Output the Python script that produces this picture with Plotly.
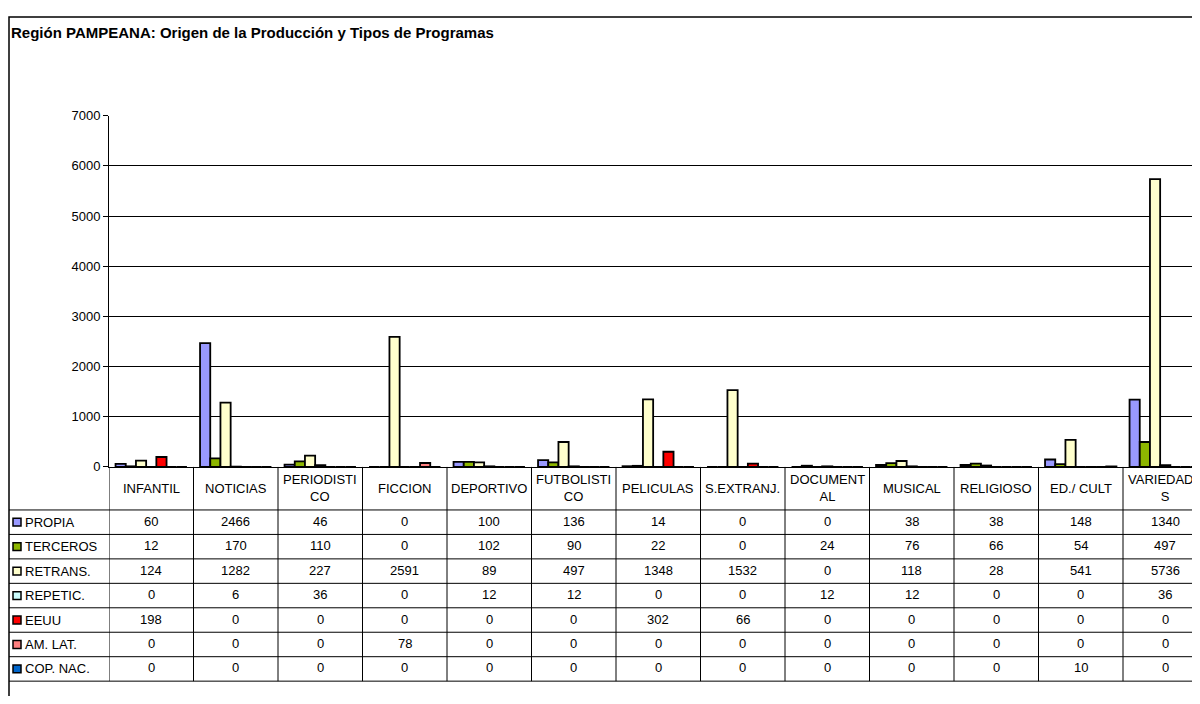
import plotly.graph_objects as go

# the page body has an 8px margin, so the figure is drawn 8px in from the
# window edges; reference pixel coordinates are converted with that offset
W, H = 1184, 688
OFF = 8

categories = ["INFANTIL", "NOTICIAS", "PERIODISTICO", "FICCION", "DEPORTIVO",
              "FUTBOLISTICO", "PELICULAS", "S.EXTRANJ.", "DOCUMENTAL",
              "MUSICAL", "RELIGIOSO", "ED./ CULT", "VARIEDADES"]
header_labels = ["INFANTIL", "NOTICIAS", "PERIODISTI<br>CO", "FICCION",
                 "DEPORTIVO", "FUTBOLISTI<br>CO", "PELICULAS", "S.EXTRANJ.",
                 "DOCUMENT<br>AL", "MUSICAL", "RELIGIOSO", "ED./ CULT",
                 "VARIEDADE<br>S"]

series_names = ["PROPIA", "TERCEROS", "RETRANS.", "REPETIC.", "EEUU",
                "AM. LAT.", "COP. NAC."]
propia = [60, 2466, 46, 0, 100, 136, 14, 0, 0, 38, 38, 148, 1340]
terceros = [12, 170, 110, 0, 102, 90, 22, 0, 24, 76, 66, 54, 497]
retrans = [124, 1282, 227, 2591, 89, 497, 1348, 1532, 0, 118, 28, 541, 5736]
repetic = [0, 6, 36, 0, 12, 12, 0, 0, 12, 12, 0, 0, 36]
eeuu = [198, 0, 0, 0, 0, 0, 302, 66, 0, 0, 0, 0, 0]
am_lat = [0, 0, 0, 78, 0, 0, 0, 0, 0, 0, 0, 0, 0]
cop_nac = [0, 0, 0, 0, 0, 0, 0, 0, 0, 0, 0, 10, 0]
series_values = [propia, terceros, retrans, repetic, eeuu, am_lat, cop_nac]
series_colors = ["#9999FF", "#8DB600", "#FFFFCC", "#CCFFFF", "#FF0000",
                 "#FF8080", "#0066CC"]

title = "Región PAMPEANA: Origen de la Producción y Tipos de Programas"


def fx(px):
    return (px - OFF) / W


def fy(py):
    return 1 - (py - OFF) / H


# layout in reference-window pixels
plot_left, plot_top, plot_bottom = 109, 111, 470
cat_width = 84.5
header_bottom = 514
row_h = 25
table_left = 9

x_idx = list(range(len(categories)))
x_max = -0.5 + (W + OFF - plot_left) / cat_width

fig = go.Figure()
for name, vals, col in zip(series_names, series_values, series_colors):
    fig.add_trace(go.Bar(x=x_idx, y=vals, name=name,
                         marker=dict(color=col,
                                     line=dict(color="black", width=1.8))))

font = dict(family="Liberation Sans, Arial, sans-serif", size=13,
            color="black")

shapes = []
annotations = []

# outer chart border
shapes.append(dict(type="rect", xref="paper", yref="paper",
                   x0=fx(9), x1=fx(W + OFF + 10), y0=fy(H + OFF + 10),
                   y1=fy(10), line=dict(color="black", width=1.5)))

# table header labels
for i, lab in enumerate(header_labels):
    annotations.append(dict(x=i, y=fy((plot_bottom + header_bottom) / 2),
                            xref="x", yref="paper", text=lab,
                            showarrow=False, font=font,
                            xanchor="center", yanchor="middle"))

n_rows = len(series_names)
table_bottom = header_bottom + n_rows * row_h

# vertical table lines
for i in range(len(categories)):
    shapes.append(dict(type="line", xref="x", yref="paper",
                       x0=i - 0.5, x1=i - 0.5,
                       y0=fy(table_bottom), y1=fy(plot_bottom),
                       line=dict(color="black", width=1)))

# horizontal table lines
for r in range(n_rows + 1):
    yy = header_bottom + r * row_h
    shapes.append(dict(type="line", xref="paper", yref="paper",
                       x0=fx(table_left), x1=1,
                       y0=fy(yy), y1=fy(yy),
                       line=dict(color="black", width=1)))

# rows: legend key, label and values
for r, (name, vals, col) in enumerate(zip(series_names, series_values,
                                          series_colors)):
    yc = header_bottom + r * row_h + row_h / 2
    shapes.append(dict(type="rect", xref="paper", yref="paper",
                       x0=fx(13), x1=fx(21), y0=fy(yc + 4), y1=fy(yc - 4),
                       fillcolor=col, line=dict(color="black", width=1.5)))
    annotations.append(dict(x=fx(23), y=fy(yc), xref="paper", yref="paper",
                            text=name, showarrow=False, font=font,
                            xanchor="left", yanchor="middle"))
    for i, v in enumerate(vals):
        annotations.append(dict(x=i, y=fy(yc - 1), xref="x", yref="paper",
                                text=str(v), showarrow=False, font=font,
                                xanchor="center", yanchor="middle"))

# title
annotations.append(dict(x=fx(9), y=fy(26), xref="paper", yref="paper",
                        text="<b>" + title + "</b>", showarrow=False,
                        font=dict(family="Liberation Sans, Arial, sans-serif",
                                  size=15, color="black"),
                        xanchor="left", yanchor="middle"))

fig.update_layout(
    width=W, height=H,
    margin=dict(l=0, r=0, t=0, b=0),
    paper_bgcolor="white", plot_bgcolor="white",
    showlegend=False,
    barmode="group", bargap=0.155, bargroupgap=0,
    font=font,
    shapes=shapes,
    annotations=annotations,
    xaxis=dict(domain=[fx(plot_left), 1], range=[-0.5, x_max],
               showticklabels=False, showgrid=False, zeroline=False,
               showline=True, linecolor="black", linewidth=1, ticks=""),
    yaxis=dict(domain=[fy(plot_bottom), fy(plot_top)], range=[0, 7000],
               dtick=1000, showgrid=True, gridcolor="black", gridwidth=1,
               zeroline=False, showline=True, linecolor="black",
               linewidth=1, ticks="outside", ticklen=5, tickcolor="black",
               tickfont=font),
)

fig.write_html("out.html")
